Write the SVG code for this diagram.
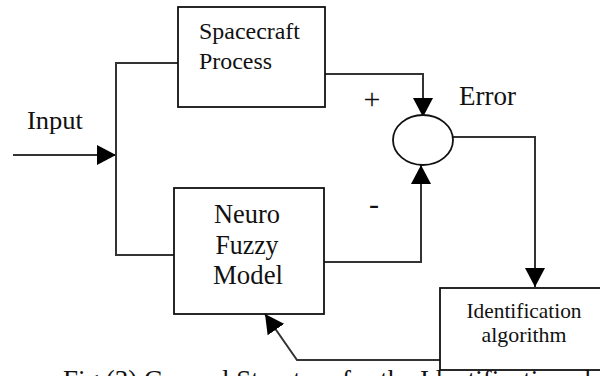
<svg xmlns="http://www.w3.org/2000/svg" width="600" height="376" viewBox="0 0 600 376">
<defs>
<style>
.box{fill:none;stroke:#111;stroke-width:1.8}
.sum{fill:#fff;stroke:#111;stroke-width:1.8}
.wire{fill:none;stroke:#333;stroke-width:2}
.t{font-family:"Liberation Serif",Tinos,"Times New Roman",serif;fill:#111}
</style>
<marker id="ah" markerUnits="userSpaceOnUse" markerWidth="20" markerHeight="20" refX="19" refY="10" orient="auto">
<path d="M0,0 L19,10 L0,20 z" fill="#000"/>
</marker>
</defs>
<rect width="600" height="376" fill="#fff"/>
<g id="connectors">
<line class="wire" x1="13" y1="155" x2="116" y2="155" marker-end="url(#ah)"/>
<polyline class="wire" points="178,63 116,63 116,255 174,255"/>
<polyline class="wire" points="325,74 423,74 423,117" marker-end="url(#ah)"/>
<polyline class="wire" points="324,262 421,262 421,165" marker-end="url(#ah)"/>
<polyline class="wire" points="453,137 535,137 535,287" marker-end="url(#ah)"/>
<polyline class="wire" points="440,360 297,360 265,314" marker-end="url(#ah)"/>
</g>
<g id="input-label"><text class="t" x="27" y="129" font-size="26" textLength="56" lengthAdjust="spacingAndGlyphs">Input</text></g>
<g id="spacecraft">
<rect class="box" x="178" y="7" width="147" height="100"/>
<text class="t" x="199" y="39" font-size="24" textLength="101" lengthAdjust="spacingAndGlyphs">Spacecraft</text>
<text class="t" x="199" y="69" font-size="24" textLength="73" lengthAdjust="spacingAndGlyphs">Process</text>
</g>
<g id="neuro-fuzzy">
<rect class="box" x="174" y="188" width="150" height="126"/>
<text class="t" x="247" y="223" font-size="26.5" text-anchor="middle" textLength="66" lengthAdjust="spacingAndGlyphs">Neuro</text>
<text class="t" x="247" y="254" font-size="26.5" text-anchor="middle" textLength="63" lengthAdjust="spacingAndGlyphs">Fuzzy</text>
<text class="t" x="248" y="284" font-size="26.5" text-anchor="middle" textLength="70" lengthAdjust="spacingAndGlyphs">Model</text>
</g>
<g id="summing-junction">
<ellipse class="sum" cx="423" cy="140" rx="30" ry="25"/>
<text class="t" x="372" y="109" font-size="30" text-anchor="middle">+</text>
<text class="t" x="374" y="214" font-size="30" text-anchor="middle">-</text>
<text class="t" x="459" y="105" font-size="27" textLength="57" lengthAdjust="spacingAndGlyphs">Error</text>
</g>
<g id="identification">
<rect class="box" x="440" y="288" width="170" height="82"/>
<text class="t" x="524" y="318" font-size="21" text-anchor="middle" textLength="115" lengthAdjust="spacingAndGlyphs">Identification</text>
<text class="t" x="524" y="342" font-size="21" text-anchor="middle" textLength="85" lengthAdjust="spacingAndGlyphs">algorithm</text>
</g>
<g id="caption">
<text class="t" x="63" y="389" font-size="27">Fig (3) General Structure for the Identification algorithm</text>
</g>
</svg>
